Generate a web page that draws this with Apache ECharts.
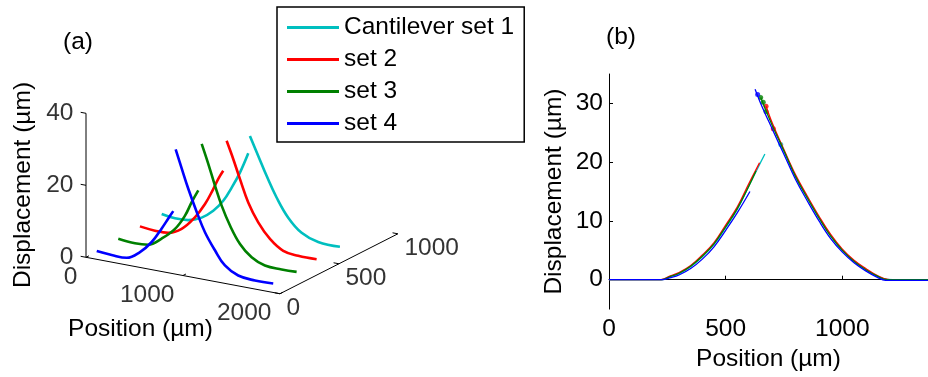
<!DOCTYPE html>
<html>
<head>
<meta charset="utf-8">
<script src="https://cdn.jsdelivr.net/npm/echarts@6/dist/echarts.min.js"></script>
<style>
  html, body { margin: 0; padding: 0; background: #fff; }
  #chart { width: 928px; height: 377px; }
</style>
</head>
<body>
<div id="chart"></div>
<script>
// ---- series identity ----
const setNames  = ['Cantilever set 1', 'set 2', 'set 3', 'set 4'];
const setColors = ['#00BFBF', '#FF0000', '#008000', '#0000FF'];

// ---- (a) 3-D view: lateral location of each cantilever set (µm) ----
const setDepth = [700, 500, 300, 100];

// (a) profiles, [position µm, displacement µm]; each set has a rising and a falling branch
const set1Rise3d = [[-71,0],[66,-0.5],[203,-0.3],[341,1.1],[461,3.6],[564,6.9],[651,11.0],[736,15.6],[822,21.4]];
const set1Fall3d = [[839,26.3],[925,21.2],[1011,16.1],[1114,10.6],[1234,5.6],[1372,2.1],[1543,0.4],[1767,0.2]];
const set2Rise3d = [[-52,0],[103,-0.4],[240,-0.3],[378,1.5],[515,5.4],[619,9.6],[704,14.2],[756,17.3],[807,19.8]];
const set2Fall3d = [[842,28.3],[910,23.6],[979,18.4],[1065,12.3],[1168,7.3],[1289,3.3],[1426,0.7],[1580,0.1],[1770,0.1]];
const set3Rise3d = [[-32,0],[140,-0.4],[277,-0.1],[415,2.3],[553,5.7],[656,9.9],[725,14.0],[793,17.6]];
const set3Fall3d = [[828,30.7],[896,25.5],[965,19.8],[1034,14.6],[1120,9.5],[1223,4.9],[1343,1.8],[1480,0.2],[1653,0],[1807,0.1]];
const set4Rise3d = [[-11,0],[143,-0.3],[298,-0.3],[435,2.0],[556,5.4],[659,9.7],[727,12.8],[778,15.1]];
const set4Fall3d = [[803,32.4],[865,27.4],[933,22.1],[1020,16.1],[1105,10.9],[1208,6.4],[1311,2.7],[1448,0.6],[1621,0.1],[1809,0.2]];

// (a) axis ranges and ticks
const posRange3d   = [0, 2000];
const depthRange3d = [0, 1000];
const dispRange3d  = [0, 40];
const posTicks3d   = [0, 1000, 2000];
const depthTicks3d = [0, 500, 1000];
const dispTicks3d  = [0, 20, 40];

// ---- (b) aligned profiles, [position µm, displacement µm] ----
const set1RiseB = [[0,0],[100,0],[200,0],[226,0],[260,0.5],[300,1.0],[350,2.2],[400,3.9],[450,6.0],[500,8.9],[550,12.0],[600,16.0],[640,19.2],[668,21.4]];
const set1FallB = [[733,23.1],[750,21.8],[800,17.5],[850,13.9],[900,10.5],[950,7.5],[1000,5.0],[1050,3.2],[1100,1.8],[1150,0.6],[1190,0.05],[1250,0],[1367,0]];
const set2RiseB = [[0,0],[100,0],[200,0],[222,0],[260,0.6],[300,1.2],[350,2.4],[400,4.2],[450,6.3],[500,9.3],[550,12.4],[600,16.4],[645,19.9]];
const set2FallB = [[673,29.5],[700,26.6],[750,22.1],[800,17.8],[850,14.2],[900,10.8],[950,7.7],[1000,5.2],[1050,3.3],[1100,1.9],[1150,0.7],[1195,0.05],[1250,-0.1],[1367,-0.1]];
const set3RiseB = [[0,0],[100,0],[200,0],[225,0],[260,0.5],[300,1.1],[350,2.3],[400,4.0],[450,6.1],[500,9.0],[550,12.1],[600,16.0],[630,18.5]];
const set3FallB = [[650,31.0],[700,26.2],[750,21.9],[800,17.5],[850,13.9],[900,10.5],[950,7.4],[1000,5.0],[1050,3.1],[1100,1.7],[1150,0.6],[1192,0],[1250,0],[1367,0]];
const set4RiseB = [[0,0],[100,0],[200,0],[230,0],[260,0.3],[300,0.8],[350,1.9],[400,3.5],[450,5.6],[500,8.4],[550,11.4],[604,15.0]];
const set4FallB = [[626,32.4],[650,30.0],[700,25.6],[750,21.3],[800,17.0],[850,13.4],[900,10.0],[950,7.0],[1000,4.7],[1050,2.9],[1100,1.5],[1150,0.4],[1185,-0.1],[1250,-0.1],[1367,-0.1]];
// (b) isolated first samples near the tip
const set1DotsB = [[736,23.0]];
const set2DotsB = [[673,29.5],[704,25.7]];
const set3DotsB = [[650,31.0],[661,30.2],[673,28.6]];
const set4DotsB = [[637,31.5]];

// (b) axis ranges and ticks
const posRangeB  = [0, 1367];
const dispRangeB = [-5, 35];
const posTicksB  = [0, 500, 1000];
const dispTicksB = [0, 10, 20, 30];

const rise3d = [set1Rise3d, set2Rise3d, set3Rise3d, set4Rise3d];
const fall3d = [set1Fall3d, set2Fall3d, set3Fall3d, set4Fall3d];
const riseB  = [set1RiseB, set2RiseB, set3RiseB, set4RiseB];
const fallB  = [set1FallB, set2FallB, set3FallB, set4FallB];
const dotsB  = [set1DotsB, set2DotsB, set3DotsB, set4DotsB];

// ---- orthographic view used for panel (a) ----
const FONT = "'Liberation Sans', Arial, sans-serif";
const FS = 24.5;
const view = { az: 31.3, el: 18, size: 227, zAspect: 0.667, ox: 86, oy: 257.3 };
const plane = { w: 928, h: 377 };   // drawing plane of panel (a), in px-like units

function project(x, y, z) {
  const u = (x - posRange3d[0]) / (posRange3d[1] - posRange3d[0]);
  const v = (y - depthRange3d[0]) / (depthRange3d[1] - depthRange3d[0]);
  const w = (z - dispRange3d[0]) / (dispRange3d[1] - dispRange3d[0]);
  const a = view.az * Math.PI / 180, e = view.el * Math.PI / 180;
  const px = view.ox + view.size * (Math.cos(a) * u + Math.sin(a) * v);
  const py = view.oy - view.size * (-Math.sin(e) * Math.sin(a) * u + Math.sin(e) * Math.cos(a) * v + Math.cos(e) * view.zAspect * w);
  return [px, py];
}

const series = [];

function segment(p, q) {
  series.push({
    type: 'line', xAxisIndex: 0, yAxisIndex: 0, data: [p, q],
    symbol: 'none', silent: true, animation: false,
    lineStyle: { color: '#000', width: 1 }
  });
}

// box edges of panel (a)
segment(project(0, 0, dispRange3d[0]), project(0, 0, dispRange3d[1]));
segment(project(posRange3d[0], 0, 0), project(posRange3d[1], 0, 0));
segment(project(posRange3d[1], depthRange3d[0], 0), project(posRange3d[1], depthRange3d[1], 0));
// tick marks
dispTicks3d.forEach(t => segment(project(0, 0, t), project(-55, 0, t)));
posTicks3d.forEach(t => segment(project(t, 0, 0), project(t, 25, 0)));
depthTicks3d.forEach(t => segment(project(posRange3d[1], t, 0), project(posRange3d[1] - 55, t, 0)));

// tick labels of panel (a)
function tickLabels(points, texts, labelOpt) {
  series.push({
    type: 'scatter', xAxisIndex: 0, yAxisIndex: 0, silent: true, animation: false,
    symbolSize: 1, itemStyle: { color: 'rgba(0,0,0,0)' },
    data: points.map((p, i) => ({ value: p, label: { formatter: String(texts[i]) } })),
    label: Object.assign({ show: true, color: '#000', fontSize: FS, fontFamily: FONT }, labelOpt)
  });
}
tickLabels(dispTicks3d.map(t => project(0, 0, t)), dispTicks3d,
  { position: [-12, 0], align: 'right', verticalAlign: 'middle' });
tickLabels(posTicks3d.map(t => project(t, 0, 0)), posTicks3d,
  { position: [-8, 20], align: 'right', verticalAlign: 'middle' });
tickLabels(depthTicks3d.map(t => project(posRange3d[1], t, 0)), depthTicks3d,
  { position: [7, 15], align: 'left', verticalAlign: 'middle' });

// profiles of panel (a)
setNames.forEach((name, i) => {
  [rise3d[i], fall3d[i]].forEach(branch => {
    series.push({
      name, type: 'line', xAxisIndex: 0, yAxisIndex: 0, animation: false,
      symbol: 'none', color: setColors[i], smooth: 0.4,
      lineStyle: { color: setColors[i], width: 2.6 },
      data: branch.map(p => project(p[0], setDepth[i], p[1]))
    });
  });
});

// profiles of panel (b)
setNames.forEach((name, i) => {
  [riseB[i], fallB[i]].forEach(branch => {
    series.push({
      name, type: 'line', xAxisIndex: 1, yAxisIndex: 1, animation: false,
      symbol: 'none', color: setColors[i], smooth: 0.4,
      lineStyle: { color: setColors[i], width: 1.3 },
      data: branch
    });
  });
  series.push({
    name, type: 'scatter', xAxisIndex: 1, yAxisIndex: 1, animation: false,
    symbolSize: 5, color: setColors[i], itemStyle: { color: setColors[i] },
    data: dotsB[i]
  });
});

const axisText = { color: '#000', fontSize: FS, fontFamily: FONT };

const option = {
  backgroundColor: '#fff',
  animation: false,
  textStyle: { fontFamily: FONT },
  legend: {
    data: setNames,
    orient: 'vertical',
    left: 277, top: 7,
    padding: [8, 10, 6, 10],
    itemGap: 7,
    itemWidth: 52, itemHeight: 3,
    icon: 'rect',
    selectedMode: false,
    borderColor: '#000', borderWidth: 1.5,
    backgroundColor: '#fff',
    textStyle: { color: '#000', fontSize: FS, fontFamily: FONT, lineHeight: 25 }
  },
  grid: [
    { left: 0, top: 0, width: plane.w, height: plane.h },
    { left: 609, top: 74, width: 319, height: 236.7 }
  ],
  xAxis: [
    { type: 'value', gridIndex: 0, min: 0, max: plane.w, show: false },
    {
      type: 'value', gridIndex: 1, min: posRangeB[0], max: posRangeB[1],
      name: 'Position (µm)', nameLocation: 'middle', nameGap: 34, nameTextStyle: axisText,
      axisLine: { show: true, lineStyle: { color: '#000', width: 1 } },
      axisTick: { show: true, inside: true, length: 4, customValues: posTicksB, lineStyle: { color: '#000' } },
      axisLabel: { customValues: posTicksB, margin: 8, formatter: v => String(v), ...axisText },
      splitLine: { show: false }
    }
  ],
  yAxis: [
    { type: 'value', gridIndex: 0, min: 0, max: plane.h, inverse: true, show: false },
    {
      type: 'value', gridIndex: 1, min: dispRangeB[0], max: dispRangeB[1],
      name: 'Displacement (µm)', nameLocation: 'middle', nameGap: 42, nameTextStyle: axisText,
      axisLine: { show: true, lineStyle: { color: '#000', width: 1 } },
      axisTick: { show: true, inside: true, length: 4, customValues: dispTicksB, lineStyle: { color: '#000' } },
      axisLabel: { customValues: dispTicksB, margin: 6, formatter: v => String(v), ...axisText },
      splitLine: { show: false }
    }
  ],
  graphic: [
    { type: 'text', x: 78, y: 42.5, style: { text: '(a)', align: 'center', verticalAlign: 'middle', fill: '#000', fontSize: FS, fontFamily: FONT } },
    { type: 'text', x: 621, y: 37.5, style: { text: '(b)', align: 'center', verticalAlign: 'middle', fill: '#000', fontSize: FS, fontFamily: FONT } },
    { type: 'text', x: 23.5, y: 185, rotation: Math.PI / 2, style: { text: 'Displacement (µm)', align: 'center', verticalAlign: 'middle', fill: '#000', fontSize: FS, fontFamily: FONT } },
    { type: 'text', x: 140.5, y: 329, style: { text: 'Position (µm)', align: 'center', verticalAlign: 'middle', fill: '#000', fontSize: FS, fontFamily: FONT } }
  ],
  series
};

const chart = echarts.init(document.getElementById('chart'), null, { renderer: 'canvas' });
chart.setOption(option);
</script>
</body>
</html>
